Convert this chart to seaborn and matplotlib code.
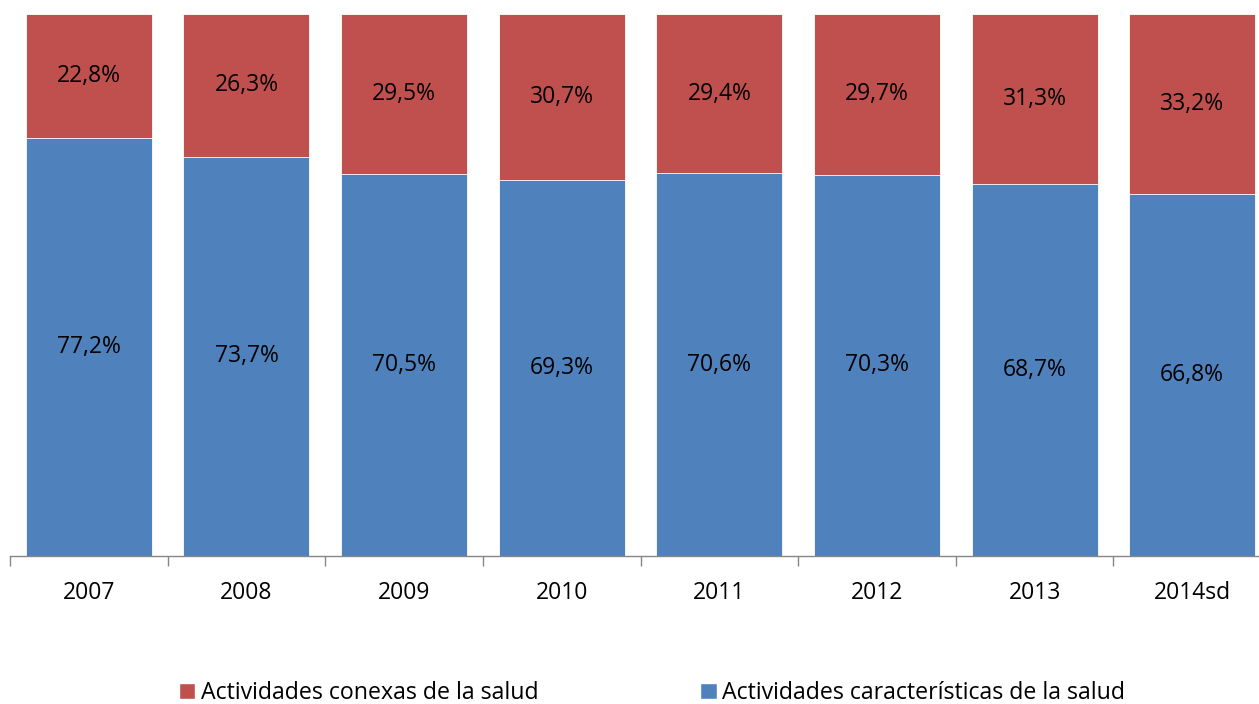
import seaborn as sns
import matplotlib.pyplot as plt
import pandas as pd
from matplotlib.patches import Patch

# values (% share per year)
years = ["2007", "2008", "2009", "2010", "2011", "2012", "2013", "2014sd"]
caracteristicas = [77.2, 73.7, 70.5, 69.3, 70.6, 70.3, 68.7, 66.8]
conexas = [22.8, 26.3, 29.5, 30.7, 29.4, 29.7, 31.3, 33.2]

blue = "#4F81BD"
red = "#C0504D"

df = pd.DataFrame({"year": years, "car": caracteristicas, "con": conexas})
df["total"] = df["car"] + df["con"]

sns.set_style("white")
plt.rcParams["font.family"] = ["Open Sans", "DejaVu Sans"]

fig = plt.figure(figsize=(12.59, 7.04), dpi=100)
ax = fig.add_axes([10 / 1259, 148 / 704, 1261 / 1259, 542 / 704])

# stacked: full total in red, then blue part drawn on top
sns.barplot(data=df, x="year", y="total", color=red, width=0.8,
            edgecolor="white", linewidth=0.6, ax=ax, saturation=1)
sns.barplot(data=df, x="year", y="car", color=blue, width=0.8,
            edgecolor="white", linewidth=0.6, ax=ax, saturation=1)

for i, (c, r) in enumerate(zip(caracteristicas, conexas)):
    ax.text(i, c / 2, f"{c:.1f}%".replace(".", ","), ha="center", va="center",
            fontsize=16.5, color="black")
    ax.text(i, c + r / 2, f"{r:.1f}%".replace(".", ","), ha="center", va="center",
            fontsize=16.5, color="black")

ax.set_ylim(0, 100)
ax.set_xlim(-0.5, 7.5)
ax.set_xlabel("")
ax.set_ylabel("")
ax.set_yticks([])
for s in ["top", "right", "left"]:
    ax.spines[s].set_visible(False)
ax.spines["bottom"].set_color("#868686")
ax.spines["bottom"].set_linewidth(1)

ax.tick_params(axis="x", which="major", length=0, pad=18, labelsize=16.5,
               labelcolor="black")
ax.set_xticks([i - 0.5 for i in range(len(years) + 1)], minor=True)
ax.tick_params(axis="x", which="minor", length=7, width=1, color="#868686",
               direction="out", bottom=True)

handles = [Patch(facecolor=red, label="Actividades conexas de la salud"),
           Patch(facecolor=blue, label="Actividades características de la salud")]
fig.legend(handles=handles, loc="center", bbox_to_anchor=(652 / 1259, 1 - 693 / 704),
           ncol=2, frameon=False, fontsize=16.7, handlelength=0.72, handleheight=0.72,
           handletextpad=0.22, columnspacing=7.0, labelcolor="black")

fig.savefig("out.png", dpi=100)
